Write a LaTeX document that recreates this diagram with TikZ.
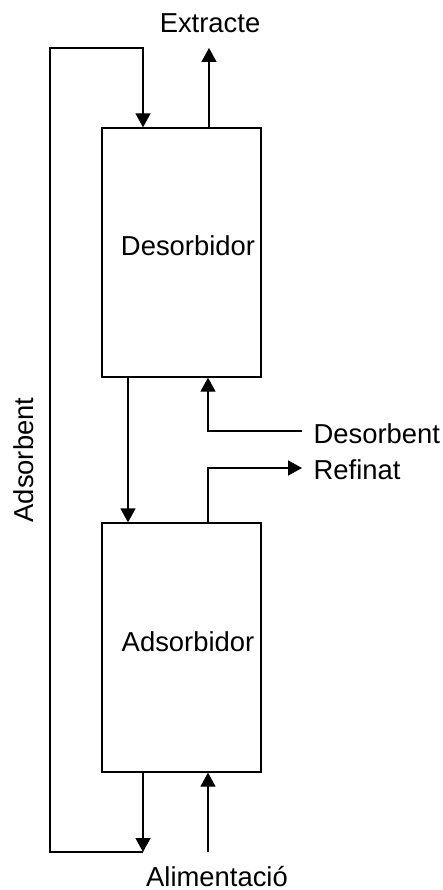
\documentclass[tikz,border=0pt]{standalone}
\usepackage{fontspec}
\setmainfont{Liberation Sans}
\usetikzlibrary{arrows.meta}
\begin{document}
\begin{tikzpicture}[x=1pt,y=-1pt,
  line width=1.3pt,
  flow/.style={draw,-{Triangle[width=15pt,length=14pt]}},
  unit/.style={draw,rectangle,minimum width=159pt,minimum height=249pt,inner sep=0pt},
  lbl/.style={font=\fontsize{27.4}{32}\selectfont,inner sep=0pt}]
\useasboundingbox (0,0) rectangle (443,890);
% boxes
\node[unit] (des) at (181.5,252.5) {};
\node[unit] (ads) at (181.5,647.5) {};
\node[lbl,anchor=base] (destxt) at (188,255) {Desorbidor};
\node[lbl,anchor=base] (adstxt) at (188,651) {Adsorbidor};
% coordinates
\coordinate (loopT) at (50,48);
\coordinate (loopTR) at (143,48);
\coordinate (loopB) at (50,852);
\coordinate (loopBR) at (143,852);
\coordinate (extEnd) at (209,48);
\coordinate (desIn) at (302,431);
\coordinate (refOut) at (302,468);
\coordinate (aliIn) at (208,852);
% labels
\node[lbl,anchor=base] (ext) at (210,33) {Extracte};
\node[lbl,anchor=base west] (desb) at (313,443) {Desorbent};
\node[lbl,anchor=base west] (ref) at (313,479) {Refinat};
\node[lbl,anchor=base] (ali) at (217,886) {Alimentació};
\node[lbl,anchor=base,rotate=90] (adsb) at (33,460) {Adsorbent};
% connectors
\draw[flow] (ads.south -| loopBR) -- (loopBR);
\draw[flow] (loopBR) -- (loopB) -- (loopT) -- (loopTR) -- (loopTR |- des.north);
\draw[flow] (des.north -| extEnd) -- (extEnd);
\draw[flow] (desIn) -| (208,0 |- des.south);
\draw[flow] (des.south -| 128,0) -- (ads.north -| 128,0);
\draw[flow] (ads.north -| 208,0) |- (refOut);
\draw[flow] (aliIn) -- (aliIn |- ads.south);
\end{tikzpicture}
\end{document}
